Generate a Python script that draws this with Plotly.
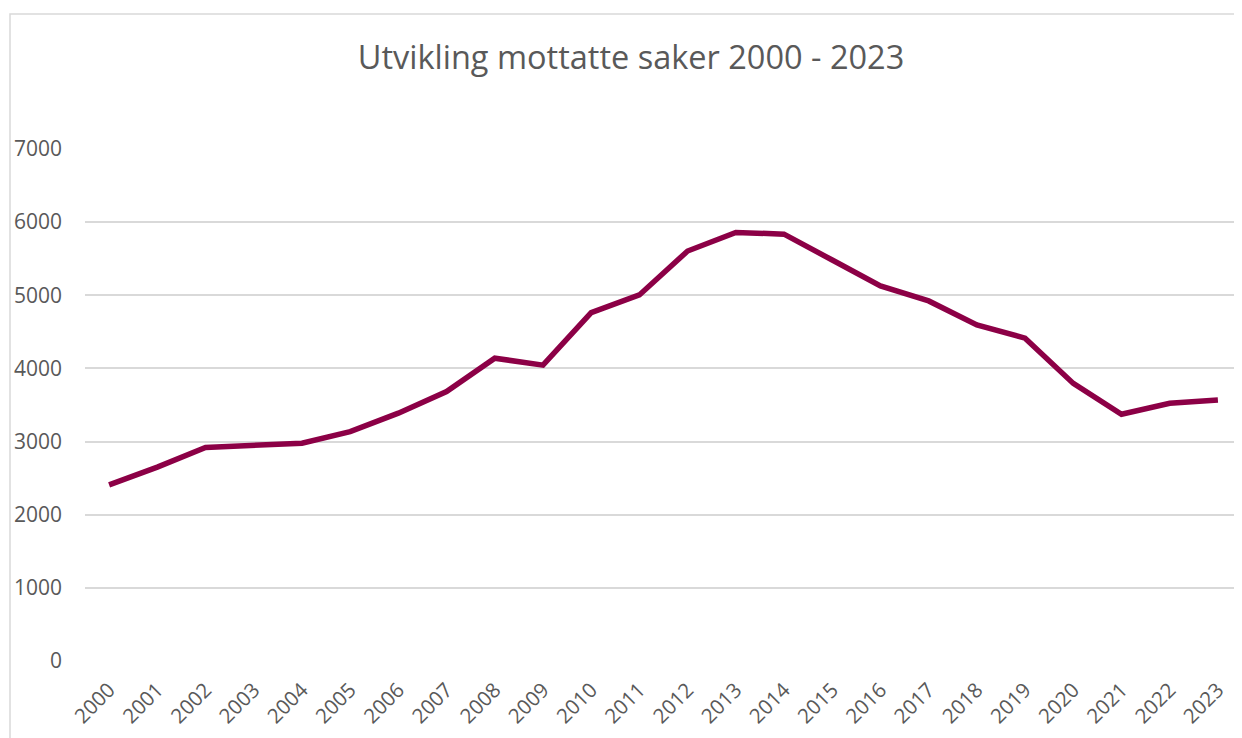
import plotly.graph_objects as go

years = [str(y) for y in range(2000, 2024)]
cases = [2409, 2651, 2918, 2951, 2978, 3137, 3388, 3683, 4140, 4045,
         4764, 5005, 5605, 5859, 5836, 5482, 5127, 4923, 4595, 4414,
         3795, 3373, 3523, 3568]
y_ticks = [0, 1000, 2000, 3000, 4000, 5000, 6000, 7000]
title_text = "Utvikling mottatte saker 2000 - 2023"

# page body has an 8px default margin; compensate
OFF = 8
W, H = 1242, 738
L, R, T, B = 85 - OFF, 1242 - OFF, 149 - OFF, 661 - OFF

fig = go.Figure()
fig.add_trace(go.Scatter(
    x=years, y=cases, mode="lines",
    line=dict(color="#8C0046", width=5.5),
    hoverinfo="x+y", showlegend=False,
))

pw, ph = R - L, B - T
def px(x): return (x - L) / pw
def py(y): return (B - y) / ph

fig.add_shape(type="rect", xref="paper", yref="paper",
              x0=px(10 - OFF), x1=px(1270), y0=py(780), y1=py(14 - OFF),
              line=dict(color="#D9D9D9", width=1.5), fillcolor="rgba(0,0,0,0)", layer="below")

fig.update_layout(
    width=W, height=H,
    margin=dict(l=L, r=W - R, t=T, b=H - B, pad=0, autoexpand=False),
    paper_bgcolor="white", plot_bgcolor="white",
    font=dict(family="Open Sans, Lato, sans-serif", color="#595959", size=20),
    title=dict(text=title_text, x=(631 - OFF) / W, xanchor="center", y=1 - (58 - OFF) / H, yanchor="middle",
               font=dict(size=32.5, color="#595959", family="Open Sans, sans-serif")),
    xaxis=dict(type="category", range=[-0.5, 23.5], tickangle=-45, showgrid=False, showline=False,
               zeroline=False, ticks="", ticklabelstandoff=12,
               tickfont=dict(size=20.5, color="#595959"), fixedrange=True, automargin=False),
    yaxis=dict(range=[0, 7000], tickvals=y_ticks, showgrid=True, gridcolor="#D9D9D9", gridwidth=1.5,
               zeroline=False, showline=False, ticks="", ticklabelstandoff=22,
               tickfont=dict(size=21, color="#595959"), fixedrange=True, automargin=False),
)

fig.write_html("out.html")
